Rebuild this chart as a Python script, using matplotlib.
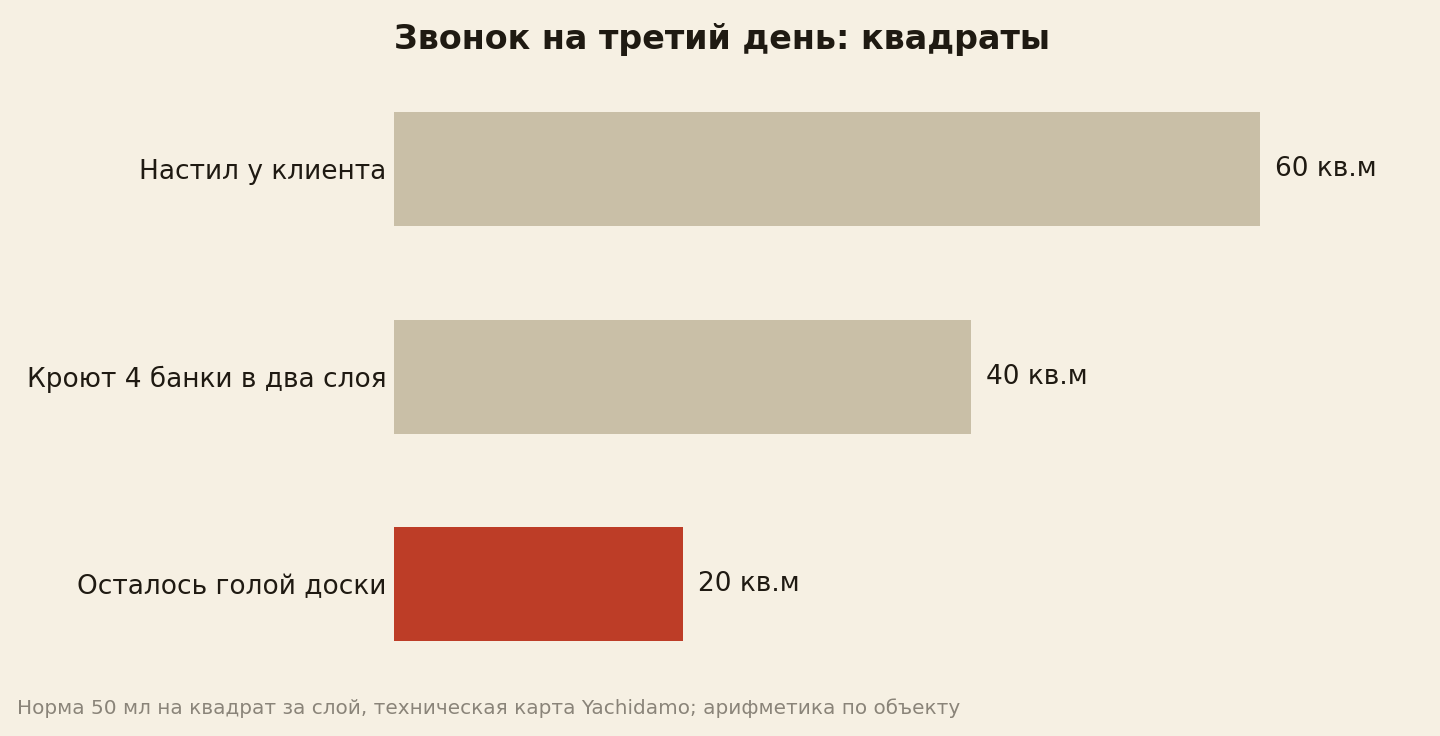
import numpy as np
import matplotlib.pyplot as plt

categories = ['Настил у клиента', 'Кроют 4 банки в два слоя', 'Осталось голой доски']
values = [60, 40, 20]
value_labels = ['60 кв.м', '40 кв.м', '20 кв.м']

bg = '#f6f0e3'
bar_color = '#c9bfa7'
hl_color = '#bd3d27'
text_color = '#1f1a12'

fig = plt.figure(figsize=(14.4, 7.36), dpi=100, facecolor=bg)
ax = fig.add_axes([394 / 1440, 1 - 688 / 736, 1010 / 1440, 622.5 / 736])
ax.set_facecolor(bg)

y = np.arange(len(categories))
colors = [bar_color, bar_color, hl_color]
ax.barh(y, values, height=0.55, color=colors)

for yi, v, lab in zip(y, values, value_labels):
    ax.annotate(lab, (v, yi), xytext=(11, 0), textcoords='offset points',
                va='center', ha='left', fontsize=19, color=text_color)

ax.set_xlim(0, 70)
ax.set_ylim(2.5, -0.5)
ax.set_yticks(y)
ax.set_yticklabels(categories, fontsize=19, color=text_color)
ax.tick_params(axis='y', length=0, pad=5.5)
ax.set_xticks([])
for spine in ax.spines.values():
    spine.set_visible(False)

fig.text(394 / 1440, 1 - 39 / 736, 'Звонок на третий день: квадраты',
         fontsize=24, fontweight='bold', color=text_color, ha='left', va='center')
fig.text(17 / 1440, 1 - 708 / 736,
         'Норма 50 мл на квадрат за слой, техническая карта Yachidamo; арифметика по объекту',
         fontsize=14.4, color='#8a8479', ha='left', va='center')

fig.savefig('out.png', dpi=100, facecolor=bg)
